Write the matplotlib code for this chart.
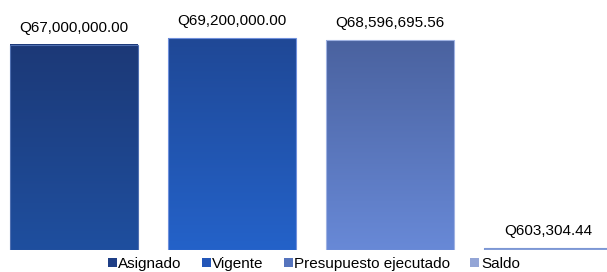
import numpy as np
import matplotlib.pyplot as plt
from matplotlib.patches import Patch, Rectangle
from matplotlib.colors import LinearSegmentedColormap

categories = ['Asignado', 'Vigente', 'Presupuesto ejecutado', 'Saldo']
values = [67000000.00, 69200000.00, 68596695.56, 603304.44]
labels = ['Q67,000,000.00', 'Q69,200,000.00', 'Q68,596,695.56', 'Q603,304.44']
top_colors = ['#1c3977', '#1f4896', '#4a629f', '#7d97d4']
bottom_colors = ['#1f4f9f', '#2462c9', '#6889d7', '#8aa3dc']
edge_colors = ['#4f6fb0', '#6f90dc', '#9fb2e2', '#7d97d4']
legend_colors = ['#1f3f86', '#2356b8', '#5674bd', '#93a5d6']

plt.rcParams['font.family'] = ['Liberation Sans', 'DejaVu Sans']

fig = plt.figure(figsize=(6.07, 2.72), dpi=100)
ax = fig.add_axes([0, 22 / 272, 1, 250 / 272])

width = 0.81
x = np.arange(len(values))
for i, v in enumerate(values):
    x0 = x[i] - width / 2
    cmap = LinearSegmentedColormap.from_list('g%d' % i, [bottom_colors[i], top_colors[i]])
    grad = np.linspace(0, 1, 256).reshape(-1, 1)
    ax.imshow(grad, extent=(x0, x0 + width, 0, v), origin='lower', cmap=cmap,
              aspect='auto', zorder=2)
    ax.add_patch(Rectangle((x0, 0), width, v, fill=False, edgecolor=edge_colors[i],
                           linewidth=0.8, zorder=3))
    ax.annotate(labels[i], (x[i], v), xytext=(0, 7.5), textcoords='offset points',
                ha='center', va='bottom', fontsize=11, color='black')

ax.set_xlim(-74 / 158, (607 - 74) / 158)
ax.set_ylim(0, 81.7e6)
ax.axis('off')

handles = [Patch(facecolor=c, edgecolor='none') for c in legend_colors]
fig.legend(handles, categories, loc='lower center', bbox_to_anchor=(0.517, -0.047), ncol=4,
           frameon=False, fontsize=11, handlelength=0.6, handleheight=0.6,
           handletextpad=0.1, columnspacing=1.3)

fig.savefig('out.png', dpi=100)
